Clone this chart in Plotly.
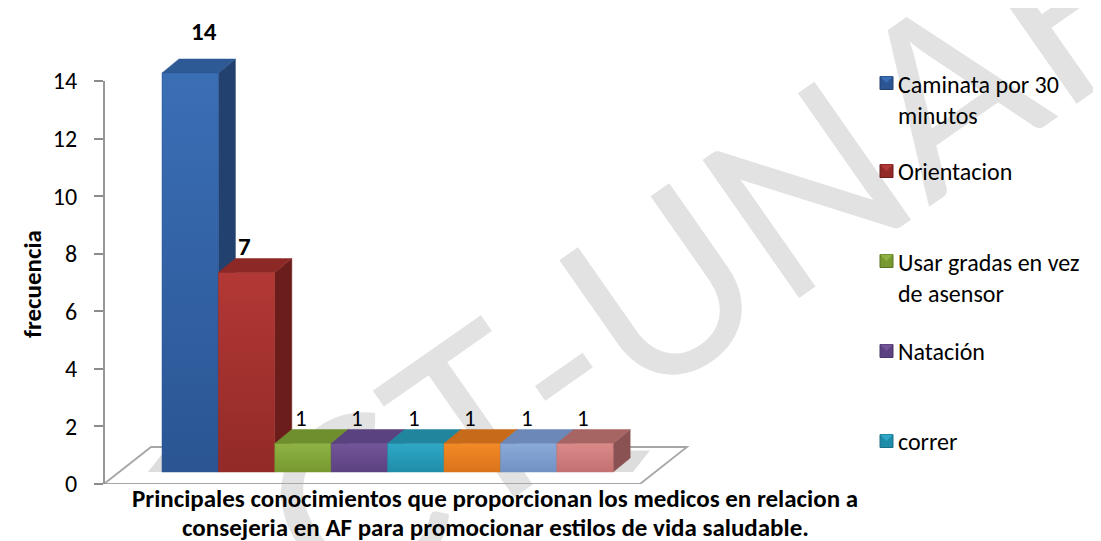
import plotly.graph_objects as go

# ---------------- data ----------------
categories = [
    "Caminata por 30 minutos",
    "Orientacion",
    "Usar gradas en vez de asensor",
    "Natación",
    "correr",
    "Categoría 6",   # not visible in the (truncated) legend of the reference
    "Categoría 7",
    "Categoría 8",
]
values = [14, 7, 1, 1, 1, 1, 1, 1]
legend_labels = [
    "Caminata por 30<br>minutos",
    "Orientacion",
    "Usar gradas en vez<br>de asensor",
    "Natación",
    "correr",
]
y_ticks = [0, 2, 4, 6, 8, 10, 12, 14]
y_title = "frecuencia"
x_title_lines = [
    "Principales conocimientos que proporcionan los medicos en relacion a",
    "consejeria en AF para promocionar estilos de vida saludable.",
]
watermark = "CT-UNAH"

# ---------------- styles ----------------
front_colors = ["#3a6fb6", "#b23835", "#8fb245", "#735499", "#2ea8c6", "#f38a26", "#8aaad9", "#da8a89"]
front_dark   = ["#2b5593", "#922a27", "#77992f", "#5c4281", "#1f8da9", "#da731b", "#7091c3", "#c27170"]
side_colors  = ["#22416e", "#6b1d1c", "#587523", "#4a346b", "#1b7088", "#a95a15", "#5b77a3", "#8a5252"]
top_colors   = ["#2d5995", "#8c2927", "#6f8f2e", "#5a417f", "#22859e", "#c76b1b", "#6c88b8", "#a66463"]
label_bold   = [True, True, False, False, False, False, False, False]

FONT = "Carlito, Calibri, Lato, sans-serif"
W, H = 1101, 541
PL, PR, PT, PB = 96, 700, 10, 476          # plot area in pixels
SLOT = 56.4                                 # pixels per category slot
X0_PX = 154                                 # left edge of first bar (px)
PXU1 = (476 - 73) / 14                      # axis px per unit
BAR_BASE_PX = 464
PXU2 = 28.5                                 # bar px per unit
DX = 17 / SLOT                              # bar depth (x units)
DY = 14 / PXU2                              # bar depth (y2 units)

def paper_x(p):
    return (p - PL) / (PR - PL)

def paper_y(p):
    return (PB - p) / (PB - PT)

n = len(values)
x_range = [-0.5 - (X0_PX - PL) / SLOT, -0.5 + (PR - X0_PX) / SLOT]
y_range = [0, (PB - PT) / PXU1]
y2_range = [-(PB - BAR_BASE_PX) / PXU2, (BAR_BASE_PX - PT) / PXU2]

fig = go.Figure()

# ---------------- 3D bars ----------------
for i, v in enumerate(values):
    l, r = i - 0.5, i + 0.5
    # side face
    fig.add_trace(go.Scatter(
        x=[r, r + DX, r + DX, r, r], y=[0, DY, v + DY, v, 0],
        fill="toself", fillcolor=side_colors[i], mode="lines",
        line=dict(color=side_colors[i], width=0.5),
        yaxis="y2", hoverinfo="skip", showlegend=False))
    # top face
    fig.add_trace(go.Scatter(
        x=[l, l + DX, r + DX, r, l], y=[v, v + DY, v + DY, v, v],
        fill="toself", fillcolor=top_colors[i], mode="lines",
        line=dict(color=top_colors[i], width=0.5),
        yaxis="y2", hoverinfo="skip", showlegend=False))
    # front face
    fig.add_trace(go.Scatter(
        x=[l, r, r, l, l], y=[0, 0, v, v, 0],
        fill="toself", mode="lines",
        fillgradient=dict(type="vertical",
                          colorscale=[[0, front_dark[i]], [1, front_colors[i]]]),
        line=dict(color=front_dark[i], width=0.5),
        yaxis="y2", hoverinfo="skip", showlegend=False,
        name=categories[i]))

# ---------------- data labels ----------------
vmax = max(values)
for i, v in enumerate(values):
    txt = f"<b>{v}</b>" if label_bold[i] else str(v)
    fig.add_annotation(
        x=i, y=v + 0.9, xref="x", yref="y2", text=txt, showarrow=False,
        xanchor="center", yanchor="middle",
        xshift=14 if v == vmax else -2, yshift=16 if v == vmax else 0,
        font=dict(family=FONT, size=25 if label_bold[i] else 23, color="black"))

# ---------------- floor ----------------
floor_back = 37 / PXU1
floor_dx = 47 / SLOT
fl = x_range[0]
fr = -0.5 + (632 - X0_PX) / SLOT
fig.add_shape(type="path", xref="x", yref="y", layer="below",
              path=(f"M {fl},0 L {fr},0 L {fr + floor_dx},{floor_back} "
                    f"L {fl + floor_dx},{floor_back} Z"),
              line=dict(color="#a6a6a6", width=1.8), fillcolor="rgba(0,0,0,0)")
# soft shadow under the bars
sh_y0 = (PB - BAR_BASE_PX) / PXU1
fig.add_shape(type="path", xref="x", yref="y", layer="below",
              path=(f"M {-0.75},{sh_y0} L {n - 0.5 + 0.35},{sh_y0} "
                    f"L {n - 0.5 + 0.35 + DX},{sh_y0 + 0.75} L {-0.75 + DX},{sh_y0 + 0.75} Z"),
              line=dict(width=0), fillcolor="rgba(120,120,120,0.25)")

# ---------------- y axis line ----------------
fig.add_shape(type="line", xref="x domain", yref="y", x0=0, x1=0,
              y0=y_ticks[0], y1=y_ticks[-1], line=dict(color="#8c8c8c", width=1.8))

# ---------------- watermark ----------------
fig.add_shape(type="rect", xref="paper", yref="paper", layer="below",
              x0=paper_x(680), x1=paper_x(740), y0=paper_y(252), y1=paper_y(212),
              line=dict(width=0), fillcolor="rgba(0,0,0,0)",
              label=dict(text=watermark, textangle=-35, textposition="middle center",
                         font=dict(family="Lato, sans-serif", size=235, color="#e2e2e2")))

# ---------------- legend (manual, truncated like the reference) ----------------
legend_line_y = [(75, 108), (163,), (253, 286), (343,), (433,)]
for k, lab in enumerate(legend_labels):
    ys = legend_line_y[k]
    cy = sum(ys) / len(ys)
    fig.add_annotation(
        x=paper_x(888), y=paper_y(cy), xref="paper", yref="paper",
        xanchor="left", yanchor="middle", align="left", showarrow=False,
        text=lab, font=dict(family=FONT, size=24, color="black"))
    my = ys[0]
    x0, x1 = paper_x(872), paper_x(885)
    y0, y1 = paper_y(my + 6.5), paper_y(my - 6.5)
    fig.add_shape(type="rect", xref="paper", yref="paper", x0=x0, x1=x1, y0=y0, y1=y1,
                  fillcolor=front_dark[k], line=dict(color=side_colors[k], width=1))
    xm = (x0 + x1) / 2
    ym = (y0 + y1) / 2
    fig.add_shape(type="path", xref="paper", yref="paper",
                  path=f"M {x0},{y1} L {x1},{y1} L {xm},{ym} Z",
                  fillcolor=front_colors[k], line=dict(width=0))

# ---------------- axis titles ----------------
fig.add_annotation(x=paper_x(24), y=paper_y(276), xref="paper", yref="paper",
                   xanchor="center", yanchor="middle",
                   text=f"<b>{y_title}</b>", textangle=-90, showarrow=False,
                   font=dict(family=FONT, size=25, color="black"))
for line_text, line_y in zip(x_title_lines, [490, 519]):
    fig.add_annotation(x=paper_x(487), y=paper_y(line_y), xref="paper", yref="paper",
                       xanchor="center", yanchor="middle",
                       text=f"<b>{line_text}</b>", showarrow=False,
                       font=dict(family=FONT, size=25, color="black"))

fig.update_layout(
    width=W, height=H,
    margin=dict(l=PL, r=W - PR, t=PT, b=H - PB),
    paper_bgcolor="white", plot_bgcolor="rgba(0,0,0,0)",
    showlegend=False,
    xaxis=dict(range=x_range, visible=False, fixedrange=True),
    yaxis=dict(range=y_range, tickvals=y_ticks, ticks="outside", ticklen=9,
               tickcolor="#8c8c8c", tickwidth=1.8, showline=False, showgrid=False,
               zeroline=False, ticklabelstandoff=12,
               tickfont=dict(family=FONT, size=24, color="black")),
    yaxis2=dict(range=y2_range, overlaying="y", visible=False),
)

fig.write_html("out.html")
